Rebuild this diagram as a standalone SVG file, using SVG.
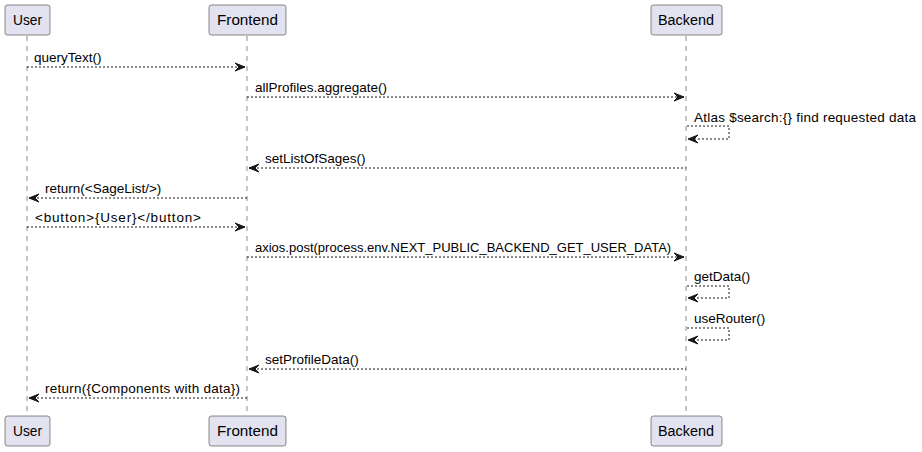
<svg xmlns="http://www.w3.org/2000/svg" width="922" height="452" viewBox="0 0 922 452">
<style>
.box{fill:#E2E2F0;stroke:#181818;stroke-width:0.5}
.pt{font-family:"Liberation Sans",Arial,sans-serif;font-size:14px;fill:#000}
.life{stroke:#181818;stroke-width:0.5;stroke-dasharray:5,5;fill:none}
.msg{stroke:#181818;stroke-width:1;stroke-dasharray:2,2;fill:none}
.mt{font-family:"Liberation Sans",Arial,sans-serif;font-size:13.5px;fill:#000}
.ah{fill:#181818;stroke:#181818;stroke-width:1}
</style>
<rect width="922" height="452" fill="#fff"/>
<g id="lifelines">
<line class="life" x1="27" y1="36" x2="27" y2="416"/>
<line class="life" x1="247" y1="36" x2="247" y2="416"/>
<line class="life" x1="686" y1="36" x2="686" y2="416"/>
</g>
<g id="User">
<rect class="box" x="5" y="5" width="45" height="30" rx="2.5"/>
<text class="pt" x="13" y="25" textLength="29" lengthAdjust="spacingAndGlyphs">User</text>
<rect class="box" x="5" y="416" width="45" height="30" rx="2.5"/>
<text class="pt" x="13" y="436" textLength="29" lengthAdjust="spacingAndGlyphs">User</text>
</g>
<g id="Frontend">
<rect class="box" x="209" y="5" width="77" height="30" rx="2.5"/>
<text class="pt" x="217" y="25" textLength="61" lengthAdjust="spacingAndGlyphs">Frontend</text>
<rect class="box" x="209" y="416" width="77" height="30" rx="2.5"/>
<text class="pt" x="217" y="436" textLength="61" lengthAdjust="spacingAndGlyphs">Frontend</text>
</g>
<g id="Backend">
<rect class="box" x="651" y="5" width="71" height="30" rx="2.5"/>
<text class="pt" x="658" y="25" textLength="56" lengthAdjust="spacingAndGlyphs">Backend</text>
<rect class="box" x="651" y="416" width="71" height="30" rx="2.5"/>
<text class="pt" x="658" y="436" textLength="56" lengthAdjust="spacingAndGlyphs">Backend</text>
</g>
<g id="connectors">
<line class="msg" x1="27" y1="67" x2="245" y2="67"/>
<polygon class="ah" points="235,63 245,67 235,71 239,67"/>
<text class="mt" x="34" y="62">queryText()</text>

<line class="msg" x1="247" y1="97" x2="684" y2="97"/>
<polygon class="ah" points="674,93 684,97 674,101 678,97"/>
<text class="mt" x="255" y="92">allProfiles.aggregate()</text>

<polyline class="msg" points="687,126 729,126 729,139 688,139"/>
<polygon class="ah" points="698,135 688,139 698,143 694,139"/>
<text class="mt" x="694" y="122" textLength="222" lengthAdjust="spacing">Atlas $search:{} find requested data</text>

<line class="msg" x1="249" y1="168" x2="686" y2="168"/>
<polygon class="ah" points="259,164 249,168 259,172 255,168"/>
<text class="mt" x="265" y="163">setListOfSages()</text>

<line class="msg" x1="29" y1="198" x2="247" y2="198"/>
<polygon class="ah" points="39,194 29,198 39,202 35,198"/>
<text class="mt" x="45" y="193">return(&lt;SageList/&gt;)</text>

<line class="msg" x1="27" y1="227" x2="245" y2="227"/>
<polygon class="ah" points="235,223 245,227 235,231 239,227"/>
<text class="mt" x="35" y="222" textLength="166" lengthAdjust="spacing">&lt;button&gt;{User}&lt;/button&gt;</text>

<line class="msg" x1="247" y1="257" x2="684" y2="257"/>
<polygon class="ah" points="674,253 684,257 674,261 678,257"/>
<text class="mt" x="255" y="252" style="font-size:13px">axios.post(process.env.NEXT_PUBLIC_BACKEND_GET_USER_DATA)</text>

<polyline class="msg" points="687,286 729,286 729,298 688,298"/>
<polygon class="ah" points="698,294 688,298 698,302 694,298"/>
<text class="mt" x="694" y="281">getData()</text>

<polyline class="msg" points="687,328 729,328 729,340 688,340"/>
<polygon class="ah" points="698,336 688,340 698,344 694,340"/>
<text class="mt" x="694" y="323">useRouter()</text>

<line class="msg" x1="249" y1="369" x2="686" y2="369"/>
<polygon class="ah" points="259,365 249,369 259,373 255,369"/>
<text class="mt" x="265" y="364">setProfileData()</text>

<line class="msg" x1="29" y1="398" x2="247" y2="398"/>
<polygon class="ah" points="39,394 29,398 39,402 35,398"/>
<text class="mt" x="45" y="393" textLength="195" lengthAdjust="spacing">return({Components with data})</text>
</g>
</svg>
